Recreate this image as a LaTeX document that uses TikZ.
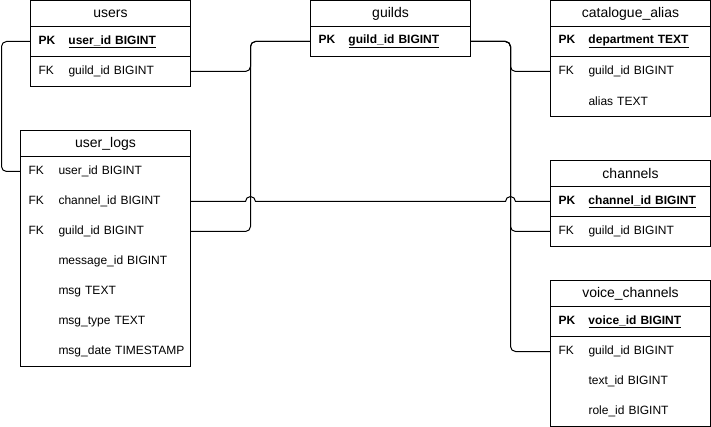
\documentclass[tikz,border=0pt]{standalone}
\usepackage{fontspec}
\setmainfont{Liberation Sans}
\begin{document}
\begin{tikzpicture}[x=1pt,y=1pt]
\tikzset{
  tline/.style={line width=1pt, draw=black},
  tbox/.style={draw=black, line width=1pt, anchor=north west, inner sep=0pt, outer sep=0pt},
  ttitle/.style={draw=black, line width=1pt, anchor=north west, minimum height=26pt, inner sep=0pt, outer sep=0pt, font=\fontsize{14}{16}\selectfont},
  trow/.style={anchor=north west, minimum height=30pt, inner ysep=0pt, inner xsep=8pt, outer sep=0pt, align=left, text width=#1, font=\fontsize{12}{14}\selectfont},
  conn/.style={line width=1pt, draw=black, rounded corners=5pt},
}
\newcommand{\kf}[2]{\raisebox{-1pt}{\mbox{\makebox[30pt][l]{#1}#2}}}
\newcommand{\pkf}[1]{\raisebox{-1pt}{\mbox{\makebox[30pt][l]{\bfseries PK}\textbf{\underline{#1}}}}}
\useasboundingbox (0,0) rectangle (711,-427);
\begin{scope}[shift={(0.5,-0.5)}]
% users
\node[tbox, minimum width=160pt, minimum height=86pt] (users) at (30,0) {};
\node[ttitle, minimum width=160pt] (users-t) at (30,0) {users};
\node[trow=144pt] (users-pk) at (30,-26) {\pkf{user\_id BIGINT}};
\node[trow=144pt] (users-fk) at (30,-56) {\kf{FK}{guild\_id BIGINT}};
\draw[tline] (users-pk.south west) -- (users-pk.south east);
% guilds
\node[tbox, minimum width=160pt, minimum height=56pt] (guilds) at (310,0) {};
\node[ttitle, minimum width=160pt] (guilds-t) at (310,0) {guilds};
\node[trow=144pt] (guilds-pk) at (310,-26) {\pkf{guild\_id BIGINT}};
% catalogue_alias
\node[tbox, minimum width=160pt, minimum height=116pt] (ca) at (550,0) {};
\node[ttitle, minimum width=160pt] (ca-t) at (550,0) {catalogue\_alias};
\node[trow=144pt] (ca-pk) at (550,-26) {\pkf{department TEXT}};
\node[trow=144pt] (ca-fk) at (550,-56) {\kf{FK}{guild\_id BIGINT}};
\node[trow=144pt] (ca-r3) at (550,-86) {\kf{}{alias TEXT}};
\draw[tline] (ca-pk.south west) -- (ca-pk.south east);
% user_logs
\node[tbox, minimum width=170pt, minimum height=236pt] (ul) at (20,-130) {};
\node[ttitle, minimum width=170pt] (ul-t) at (20,-130) {user\_logs};
\node[trow=154pt] (ul1) at (20,-156) {\kf{FK}{user\_id BIGINT}};
\node[trow=154pt] (ul2) at (20,-186) {\kf{FK}{channel\_id BIGINT}};
\node[trow=154pt] (ul3) at (20,-216) {\kf{FK}{guild\_id BIGINT}};
\node[trow=154pt] (ul4) at (20,-246) {\kf{}{message\_id BIGINT}};
\node[trow=154pt] (ul5) at (20,-276) {\kf{}{msg TEXT}};
\node[trow=154pt] (ul6) at (20,-306) {\kf{}{msg\_type TEXT}};
\node[trow=154pt] (ul7) at (20,-336) {\kf{}{msg\_date TIMESTAMP}};
% channels
\node[tbox, minimum width=160pt, minimum height=86pt] (ch) at (550,-160) {};
\node[ttitle, minimum width=160pt] (ch-t) at (550,-160) {channels};
\node[trow=144pt] (ch-pk) at (550,-186) {\pkf{channel\_id BIGINT}};
\node[trow=144pt] (ch-fk) at (550,-216) {\kf{FK}{guild\_id BIGINT}};
\draw[tline] (ch-pk.south west) -- (ch-pk.south east);
% voice_channels
\node[tbox, minimum width=160pt, minimum height=146pt] (vc) at (550,-280) {};
\node[ttitle, minimum width=160pt] (vc-t) at (550,-280) {voice\_channels};
\node[trow=144pt] (vc-pk) at (550,-306) {\pkf{voice\_id BIGINT}};
\node[trow=144pt] (vc-fk) at (550,-336) {\kf{FK}{guild\_id BIGINT}};
\node[trow=144pt] (vc-r3) at (550,-366) {\kf{}{text\_id BIGINT}};
\node[trow=144pt] (vc-r4) at (550,-396) {\kf{}{role\_id BIGINT}};
\draw[tline] (vc-pk.south west) -- (vc-pk.south east);
% connectors
\draw[conn] (users-pk.west) -- ++(-29,0) |- (ul1.west);
\draw[conn] (users-fk.east) -- ++(60,0) |- (guilds-pk.west);
\draw[conn] (ul3.east) -- ++(60,0) |- (guilds-pk.west);
\draw[line width=1pt] (ul2.east) -- ++(55,0) arc[start angle=180,end angle=0,radius=5pt] -- ++(250,0) arc[start angle=180,end angle=0,radius=5pt] -- (ch-pk.west);
\draw[conn] (guilds-pk.east) -- ++(40,0) |- (ca-fk.west);
\draw[conn] (guilds-pk.east) -- ++(40,0) |- (ch-fk.west);
\draw[conn] (guilds-pk.east) -- ++(40,0) |- (vc-fk.west);
\end{scope}
\end{tikzpicture}
\end{document}
